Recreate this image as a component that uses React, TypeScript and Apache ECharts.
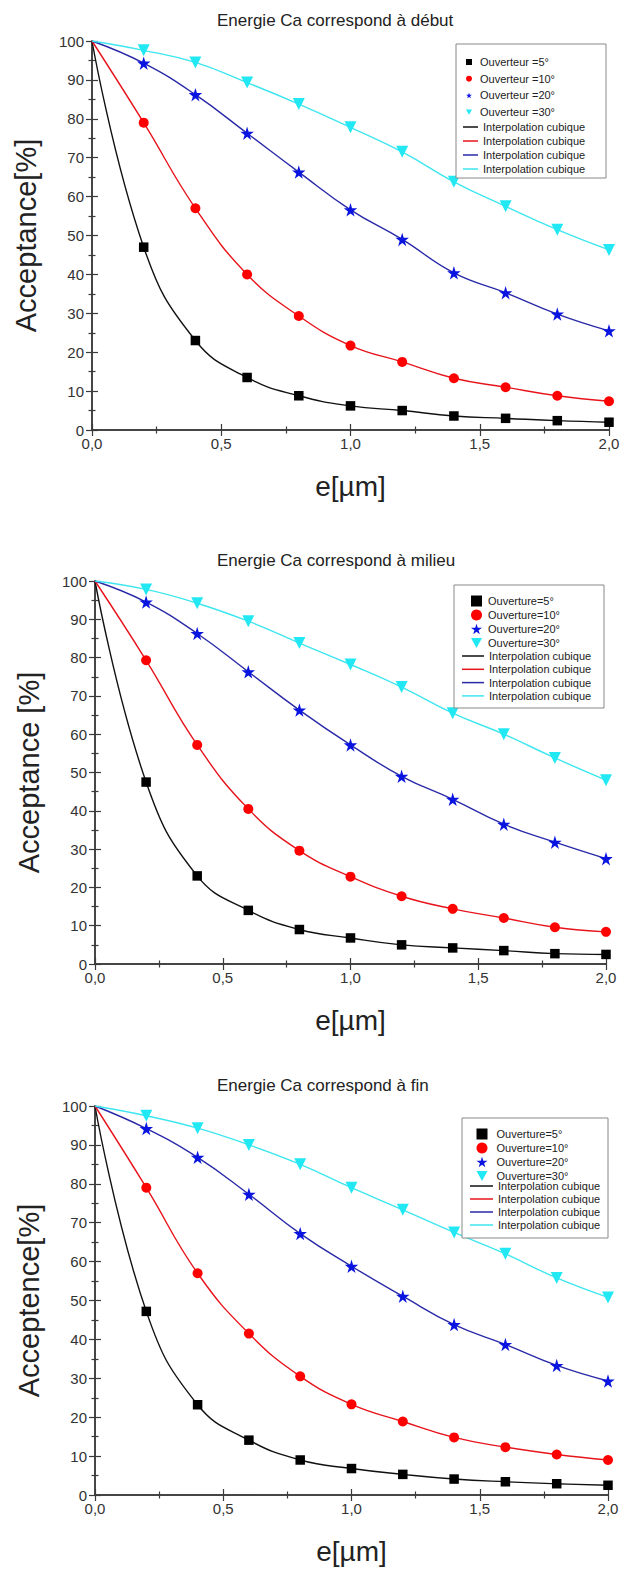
import { useEffect, useRef } from "react";
import * as echarts from "echarts";

// Thickness e [µm] of the sampled points
const thickness = [0, 0.2, 0.4, 0.6, 0.8, 1.0, 1.2, 1.4, 1.6, 1.8, 2.0];

// Acceptance [%] — energy at the start ("début")
const debut5 = [100, 47, 23, 13.5, 8.8, 6.2, 5, 3.6, 3, 2.4, 2];
const debut10 = [100, 79, 57, 40, 29.3, 21.7, 17.5, 13.3, 11, 8.8, 7.4];
const debut20 = [100, 94.3, 86.2, 76.3, 66.3, 56.6, 49, 40.4, 35.3, 29.8, 25.5];
const debut30 = [100, 97.6, 94.5, 89.3, 83.8, 77.8, 71.5, 63.8, 57.5, 51.5, 46.3];

// Acceptance [%] — energy at the middle ("milieu")
const milieu5 = [100, 47.5, 23, 14, 9, 6.8, 5, 4.2, 3.5, 2.7, 2.5];
const milieu10 = [100, 79.3, 57.2, 40.5, 29.6, 22.8, 17.7, 14.4, 12, 9.6, 8.4];
const milieu20 = [100, 94.5, 86.3, 76.3, 66.3, 57.2, 49, 43, 36.5, 31.8, 27.5];
const milieu30 = [100, 97.8, 94.2, 89.5, 83.8, 78.2, 72.3, 65.5, 60, 53.8, 48];

// Acceptance [%] — energy at the end ("fin")
const fin5 = [100, 47.2, 23.2, 14.1, 9, 6.8, 5.3, 4.1, 3.4, 2.9, 2.5];
const fin10 = [100, 79, 57, 41.5, 30.5, 23.3, 18.9, 14.8, 12.3, 10.4, 9];
const fin20 = [100, 94.2, 86.8, 77.3, 67.2, 58.8, 51.1, 43.8, 38.7, 33.3, 29.3];
const fin30 = [100, 97.5, 94.3, 90, 85, 79, 73.3, 67.5, 62, 55.8, 50.8];

const titles = [
  "Energie Ca correspond à début",
  "Energie Ca correspond à milieu",
  "Energie Ca correspond à fin",
];
const yNames = ["Acceptance[%]", "Acceptance [%]", "Acceptence[%]"];
const xName = "e[µm]";
const apertures = ["5", "10", "20", "30"];
const markerLabels = [
  apertures.map((a) => `Ouverteur =${a}°`),
  apertures.map((a) => `Ouverture=${a}°`),
  apertures.map((a) => `Ouverture=${a}°`),
];
const curveLabel = "Interpolation cubique";
const datasets = [
  [debut5, debut10, debut20, debut30],
  [milieu5, milieu10, milieu20, milieu30],
  [fin5, fin10, fin20, fin30],
];

const FONT = "'Liberation Sans', Arial, sans-serif";
const lineColors = ["#111111", "#e8141c", "#2a2aa8", "#3ee6f0"];
const markerColors = ["#000000", "#ff0000", "#0a14e0", "#22e8f4"];
const STAR =
  "path://M50,0 L61,35 L98,35 L68,57 L79,91 L50,70 L21,91 L32,57 L2,35 L39,35 Z";
const TRI_DOWN = "path://M0,0 L10,0 L5,9 Z";
const markerSymbols = ["rect", "circle", STAR, TRI_DOWN];
const markerSizes = [9.5, 10, 13.5, 12];

// plot rectangles
const grids = [
  { left: 92, top: 41, width: 517, height: 389 },
  { left: 95, top: 581, width: 511, height: 383 },
  { left: 95, top: 1106, width: 513, height: 389 },
];

// legend layout per panel
const legendLayout = [
  {
    box: { x: 456, y: 44, w: 150, h: 134 },
    marks: { left: 466, top: 56.5, size: 6, gap: 5.7, textPad: 3 },
    lines: { left: 463, top: 127, w: 15, gap: 3 },
  },
  {
    box: { x: 454, y: 585, w: 150, h: 123 },
    marks: { left: 471, top: 595.5, size: 11, gap: 3, textPad: 1 },
    lines: { left: 462, top: 656, w: 22, gap: 2.3 },
  },
  {
    box: { x: 462, y: 1118, w: 146, h: 120 },
    marks: { left: 476.5, top: 1128.5, size: 11, gap: 3, textPad: 4 },
    lines: { left: 470, top: 1186, w: 23, gap: 2 },
  },
];

function buildOption() {
  const axisLine = { show: true, lineStyle: { color: "#3a3a3a", width: 1.5 } };
  const axisTick = { show: true, inside: true, length: 6, lineStyle: { color: "#3a3a3a", width: 1.2 } };
  const minorTick = { show: true, splitNumber: 2, length: 3.5, lineStyle: { color: "#3a3a3a", width: 1.2 } };

  const xAxis: any[] = [];
  const yAxis: any[] = [];
  const series: any[] = [];
  const legend: any[] = [];
  const graphic: any[] = [];
  const nameMap: Record<string, string> = {};

  grids.forEach((g, i) => {
    xAxis.push({
      type: "value",
      gridIndex: i,
      min: 0,
      max: 2,
      interval: 0.5,
      position: "bottom",
      name: xName,
      nameLocation: "middle",
      nameGap: 42,
      nameTextStyle: { fontSize: 28, fontFamily: FONT, color: "#222" },
      axisLine,
      axisTick,
      minorTick,
      splitLine: { show: false },
      axisLabel: {
        fontSize: 15,
        fontFamily: FONT,
        color: "#333",
        margin: 6,
        formatter: (v: number) => v.toFixed(1).replace(".", ","),
      },
    });
    xAxis.push({
      type: "value",
      gridIndex: i,
      min: 0,
      max: 2,
      interval: 0.5,
      position: "top",
      axisLine,
      axisTick,
      minorTick,
      splitLine: { show: false },
      axisLabel: { show: false },
    });
    yAxis.push({
      type: "value",
      gridIndex: i,
      min: 0,
      max: 100,
      interval: 10,
      position: "left",
      name: yNames[i],
      nameLocation: "middle",
      nameGap: 52,
      nameTextStyle: { fontSize: 29, fontFamily: FONT, color: "#222" },
      axisLine,
      axisTick,
      minorTick,
      splitLine: { show: false },
      axisLabel: { fontSize: 15, fontFamily: FONT, color: "#333", margin: 8 },
    });
    yAxis.push({
      type: "value",
      gridIndex: i,
      min: 0,
      max: 100,
      interval: 10,
      position: "right",
      axisLine,
      axisTick,
      minorTick,
      splitLine: { show: false },
      axisLabel: { show: false },
    });

    const markNames: string[] = [];
    const lineNames: string[] = [];
    datasets[i].forEach((vals, k) => {
      const lineName = `curve-${i}-${k}`;
      const markName = `mark-${i}-${k}`;
      nameMap[lineName] = curveLabel;
      nameMap[markName] = markerLabels[i][k];
      lineNames.push(lineName);
      markNames.push(markName);
      const pts = thickness.map((x, j) => [x, vals[j]]);
      series.push({
        name: lineName,
        type: "line",
        xAxisIndex: i * 2,
        yAxisIndex: i * 2,
        data: pts,
        smooth: 0.45,
        symbol: "none",
        z: 2,
        lineStyle: { color: lineColors[k], width: 1.4 },
        itemStyle: { color: lineColors[k] },
      });
      series.push({
        name: markName,
        type: "scatter",
        xAxisIndex: i * 2,
        yAxisIndex: i * 2,
        data: pts.slice(1),
        symbol: markerSymbols[k],
        symbolSize: markerSizes[k],
        z: 3,
        itemStyle: { color: markerColors[k], opacity: 1 },
      });
    });

    const L = legendLayout[i];
    graphic.push({
      type: "rect",
      z: 20,
      shape: { x: L.box.x, y: L.box.y, width: L.box.w, height: L.box.h },
      style: { fill: "#fff", stroke: "#888", lineWidth: 1 },
    });
    legend.push({
      orient: "vertical",
      left: L.marks.left,
      top: L.marks.top,
      itemWidth: L.marks.size,
      itemHeight: L.marks.size,
      itemGap: L.marks.gap,
      padding: 0,
      z: 30,
      selectedMode: false,
      data: markNames,
      formatter: (n: string) => nameMap[n],
      textStyle: {
        fontSize: 11,
        fontFamily: FONT,
        color: "#222",
        padding: [0, 0, 0, L.marks.textPad],
      },
    });
    legend.push({
      orient: "vertical",
      left: L.lines.left,
      top: L.lines.top - 5.5,
      icon: "rect",
      symbolKeepAspect: false,
      itemWidth: L.lines.w,
      itemHeight: 1.5,
      itemGap: L.lines.gap,
      padding: 0,
      z: 30,
      selectedMode: false,
      data: lineNames,
      formatter: (n: string) => nameMap[n],
      textStyle: { fontSize: 11, fontFamily: FONT, color: "#222" },
    });

    graphic.push({
      type: "text",
      x: 217,
      y: g.top - 21,
      z: 30,
      style: {
        text: titles[i],
        fontSize: 17,
        fontFamily: FONT,
        fill: "#222",
        align: "left",
        verticalAlign: "middle",
      },
    });
  });

  return {
    animation: false,
    backgroundColor: "#ffffff",
    grid: grids.map((g) => ({ ...g, containLabel: false })),
    xAxis,
    yAxis,
    legend,
    graphic,
    series,
  };
}

export default function App() {
  const ref = useRef<HTMLDivElement>(null);
  useEffect(() => {
    if (!ref.current) return;
    const chart = echarts.init(ref.current, undefined, { renderer: "svg" });
    chart.setOption(buildOption());
    return () => chart.dispose();
  }, []);
  return (
    <div
      ref={ref}
      style={{ position: "absolute", left: 0, top: 0, width: 624, height: 1569, background: "#fff" }}
    />
  );
}
